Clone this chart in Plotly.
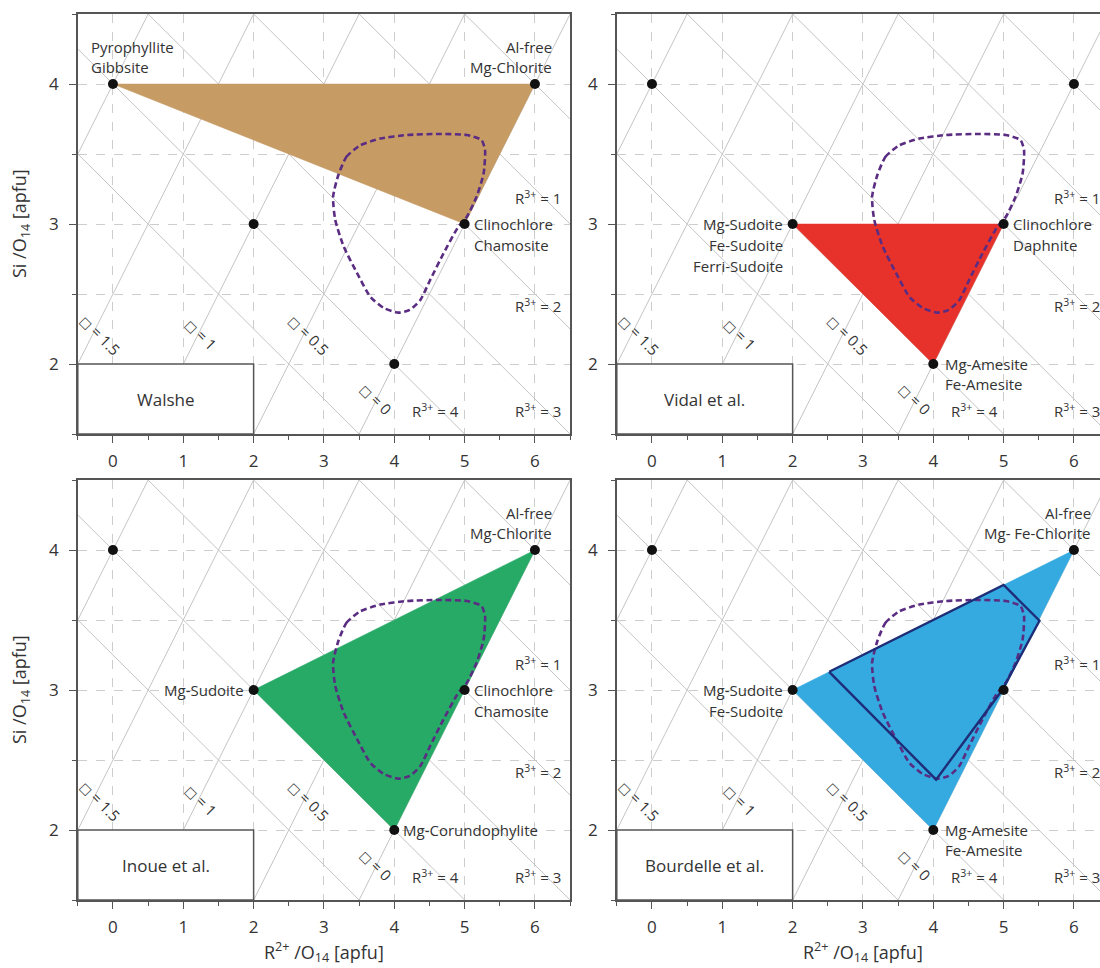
import plotly.graph_objects as go

# End-member compositions: R2+ and Si per O14 (apfu)
END_R2 = [0, 6, 2, 5, 4]
END_SI = [4, 4, 3, 3, 2]

# Iso-lines drawn in the background
R3_LEVELS = [0, 1, 2, 3, 4, 5]          # total trivalent cations
VAC_LEVELS = [0, 0.5, 1, 1.5, 2]        # octahedral vacancies

# Compositional fields of the four thermometer models
WALSHE_R2 = [0, 6, 5]
WALSHE_SI = [4, 4, 3]
VIDAL_R2 = [2, 5, 4]
VIDAL_SI = [3, 3, 2]
INOUE_R2 = [2, 6, 4]
INOUE_SI = [3, 4, 2]
BOURDELLE_R2 = [2, 6, 4]
BOURDELLE_SI = [3, 4, 2]
BOURDELLE_CAL_R2 = [2.52, 5.0, 5.51, 4.98, 4.04]
BOURDELLE_CAL_SI = [3.13, 3.75, 3.495, 3.0, 2.36]

# Envelope of natural chlorite compositions
ENV_R2 = [3.205, 3.32, 3.51, 3.80, 4.18, 4.65, 5.03, 5.24, 5.29, 5.27, 5.17,
          5.03, 4.91, 4.70, 4.51, 4.37, 4.22, 4.06, 3.85, 3.66, 3.47, 3.28,
          3.16, 3.13, 3.205]
ENV_SI = [3.35, 3.48, 3.56, 3.61, 3.636, 3.643, 3.636, 3.60, 3.53, 3.36, 3.195,
          3.05, 2.98, 2.79, 2.60, 2.457, 2.386, 2.367, 2.40, 2.48, 2.65, 2.84,
          3.03, 3.195, 3.35]

FONT = "Open Sans"
TXT = "#333333"
AXC = "#555555"

PANELS = [
    dict(name="Walshe", fill=(WALSHE_R2, WALSHE_SI), color="#C69B64", cal=None,
         labels=[("Pyrophyllite|Gibbsite", 0, 4, "above_left"),
                 ("Al-free|Mg-Chlorite", 6, 4, "above_right"),
                 ("Clinochlore|Chamosite", 5, 3, "right")]),
    dict(name="Vidal et al.", fill=(VIDAL_R2, VIDAL_SI), color="#E6322A", cal=None,
         labels=[("Mg-Sudoite|Fe-Sudoite|Ferri-Sudoite", 2, 3, "left"),
                 ("Clinochlore|Daphnite", 5, 3, "right"),
                 ("Mg-Amesite|Fe-Amesite", 4, 2, "right_wide")]),
    dict(name="Inoue et al.", fill=(INOUE_R2, INOUE_SI), color="#26AA66", cal=None,
         labels=[("Al-free|Mg-Chlorite", 6, 4, "above_right"),
                 ("Mg-Sudoite", 2, 3, "left"),
                 ("Clinochlore|Chamosite", 5, 3, "right"),
                 ("Mg-Corundophylite", 4, 2, "right")]),
    dict(name="Bourdelle et al.", fill=(BOURDELLE_R2, BOURDELLE_SI), color="#34AAE0",
         cal=(BOURDELLE_CAL_R2, BOURDELLE_CAL_SI),
         labels=[("Al-free|Mg- Fe-Chlorite", 6, 4, "above_right"),
                 ("Mg-Sudoite|Fe-Sudoite", 2, 3, "left"),
                 ("Mg-Amesite|Fe-Amesite", 4, 2, "right_wide")]),
]

# panel frames in pixels of the 1100 x 968 page
W, H = 1100, 968
X_LEFT = (77.8, 570.2)
X_RIGHT = (616.8, 1100.0)
Y_TOP = (14.0, 434.0)
Y_BOT = (480.0, 900.0)
PX_PER_UNIT = 70.33
FRAMES = [(X_LEFT, Y_TOP), (X_RIGHT, Y_TOP), (X_LEFT, Y_BOT), (X_RIGHT, Y_BOT)]

fig = go.Figure()
layout = dict(width=W, height=H, margin=dict(l=0, r=0, t=0, b=0),
              paper_bgcolor="white", plot_bgcolor="white", showlegend=False,
              font=dict(family=FONT, color=TXT))
annotations = []

X_LINE = [-1.0, 7.5]
VAC_SYMBOL = '<span style="font-family:DejaVu Sans;font-size:12px">\u25a1</span>'

for i, (panel, (fx, fy)) in enumerate(zip(PANELS, FRAMES)):
    n = "" if i == 0 else str(i + 1)
    xa, ya = "x" + n, "y" + n
    is_right = i % 2 == 1

    x_max = -0.5 + (fx[1] - fx[0]) / PX_PER_UNIT
    tickfont = dict(family=FONT, size=17, color=TXT)
    layout["xaxis" + n] = dict(
        domain=[fx[0] / W, fx[1] / W], range=[-0.5, x_max], anchor=ya,
        tick0=0, dtick=1, showgrid=True, gridcolor="#cdcdcd", griddash="dash",
        gridwidth=1, zeroline=False, showline=True, linecolor=AXC, linewidth=1.5,
        mirror=True, ticks="outside", ticklen=7, tickwidth=1.3, tickcolor=AXC,
        ticklabelstandoff=4, tickfont=tickfont,
        minor=dict(dtick=0.5, ticks="outside", ticklen=4, tickcolor=AXC,
                   tickwidth=1.3, showgrid=False),
    )
    layout["yaxis" + n] = dict(
        domain=[1 - fy[1] / H, 1 - fy[0] / H], range=[1.5, 4.5], anchor=xa,
        tick0=0, dtick=1, showgrid=True, gridcolor="#cdcdcd", griddash="dash",
        gridwidth=1, zeroline=False, showline=True, linecolor=AXC, linewidth=1.5,
        mirror=not is_right, ticks="outside", ticklen=7, tickwidth=1.3,
        tickcolor=AXC, ticklabelstandoff=7, tickfont=tickfont,
        minor=dict(dtick=0.5, ticks="outside", ticklen=4, tickcolor=AXC,
                   tickwidth=1.3, showgrid=True, gridcolor="#cdcdcd",
                   griddash="dash", gridwidth=1),
    )

    # background iso-lines: R3+ (slope -1/2) and vacancy (slope 1)
    lx, ly = [], []
    for r in R3_LEVELS:
        lx += [X_LINE[0], X_LINE[1], None]
        ly += [7 - 0.75 * r - 0.5 * X_LINE[0], 7 - 0.75 * r - 0.5 * X_LINE[1], None]
    for v in VAC_LEVELS:
        lx += [X_LINE[0], X_LINE[1], None]
        ly += [X_LINE[0] - 2 + 3 * v, X_LINE[1] - 2 + 3 * v, None]
    fig.add_trace(go.Scatter(x=lx, y=ly, mode="lines", xaxis=xa, yaxis=ya,
                             line=dict(color="#c4c4c4", width=1), hoverinfo="skip"))

    # model field
    px_, py_ = panel["fill"]
    fig.add_trace(go.Scatter(x=px_ + [px_[0]], y=py_ + [py_[0]], mode="lines",
                             fill="toself", fillcolor=panel["color"],
                             line=dict(color=panel["color"], width=0.5),
                             xaxis=xa, yaxis=ya, hoverinfo="skip"))

    # natural chlorite envelope
    fig.add_trace(go.Scatter(x=ENV_R2, y=ENV_SI, mode="lines", xaxis=xa, yaxis=ya,
                             line=dict(color="#5A2D82", width=2.6, dash="6px,3.5px",
                                       shape="spline", smoothing=0.6),
                             hoverinfo="skip"))

    if panel["cal"] is not None:
        cx, cy = panel["cal"]
        fig.add_trace(go.Scatter(x=cx + [cx[0]], y=cy + [cy[0]], mode="lines",
                                 xaxis=xa, yaxis=ya,
                                 line=dict(color="#1E2D78", width=2.4),
                                 hoverinfo="skip"))

    # end-member points
    fig.add_trace(go.Scatter(x=END_R2, y=END_SI, mode="markers", xaxis=xa, yaxis=ya,
                             marker=dict(color="#111111", size=10), hoverinfo="skip"))

    # model name box
    fig.add_trace(go.Scatter(x=[-0.5, 2, 2, -0.5, -0.5], y=[1.5, 1.5, 2, 2, 1.5],
                             mode="lines", fill="toself", fillcolor="white",
                             line=dict(color=AXC, width=1.5), xaxis=xa, yaxis=ya,
                             hoverinfo="skip"))
    annotations.append(dict(x=0.75, y=1.745, xref=xa, yref=ya, text=panel["name"],
                            showarrow=False, font=dict(size=17, color=TXT, family=FONT)))

    # end-member names
    for text, x0, y0, where in panel["labels"]:
        for k, line in enumerate(text.split("|")):
            if where == "above_left":
                a = dict(xanchor="left", xshift=-24, yshift=37 - 20 * k)
            elif where == "above_right":
                a = dict(xanchor="right", xshift=19, yshift=37 - 20 * k)
            elif where == "left":
                a = dict(xanchor="right", xshift=-8, yshift=-21 * k)
            elif where == "right_wide":
                a = dict(xanchor="left", xshift=10, yshift=-20 * k)
            else:
                a = dict(xanchor="left", xshift=7, yshift=-21 * k)
            annotations.append(dict(x=x0, y=y0, xref=xa, yref=ya, text=line,
                                    showarrow=False, yanchor="middle",
                                    font=dict(size=15, color=TXT, family=FONT), **a))

    # R3+ labels
    for txt, x0, y0 in [("1", 6.04, 3.186), ("2", 6.04, 2.42), ("3", 6.04, 1.67),
                        ("4", 4.58, 1.67)]:
        annotations.append(dict(x=x0, y=y0, xref=xa, yref=ya,
                                text="R<sup>3+</sup> = " + txt, showarrow=False,
                                font=dict(size=15, color=TXT, family=FONT)))

    # vacancy labels
    for txt, x0, y0 in [("1.5", -0.18, 2.207), ("1", 1.25, 2.212),
                        ("0.5", 2.79, 2.21), ("0", 3.74, 1.75)]:
        annotations.append(dict(x=x0, y=y0, xref=xa, yref=ya,
                                text=VAC_SYMBOL + " = " + txt, showarrow=False,
                                textangle=45,
                                font=dict(size=15, color=TXT, family=FONT)))

# axis titles
for yc in [(Y_TOP[0] + Y_TOP[1]) / 2, (Y_BOT[0] + Y_BOT[1]) / 2]:
    annotations.append(dict(x=20 / W, y=1 - yc / H, xref="paper", yref="paper",
                            xanchor="center", yanchor="middle",
                            text="Si /O<sub>14</sub> [apfu]", textangle=-90,
                            showarrow=False, font=dict(size=18, color=TXT, family=FONT)))
for xc in [(X_LEFT[0] + X_LEFT[1]) / 2, (X_RIGHT[0] + 1109) / 2]:
    annotations.append(dict(x=xc / W, y=1 - 952 / H, xref="paper", yref="paper",
                            xanchor="center", yanchor="middle",
                            text="R<sup>2+</sup> /O<sub>14</sub> [apfu]",
                            showarrow=False, font=dict(size=18, color=TXT, family=FONT)))

layout["annotations"] = annotations
fig.update_layout(**layout)
fig.write_html("out.html")
